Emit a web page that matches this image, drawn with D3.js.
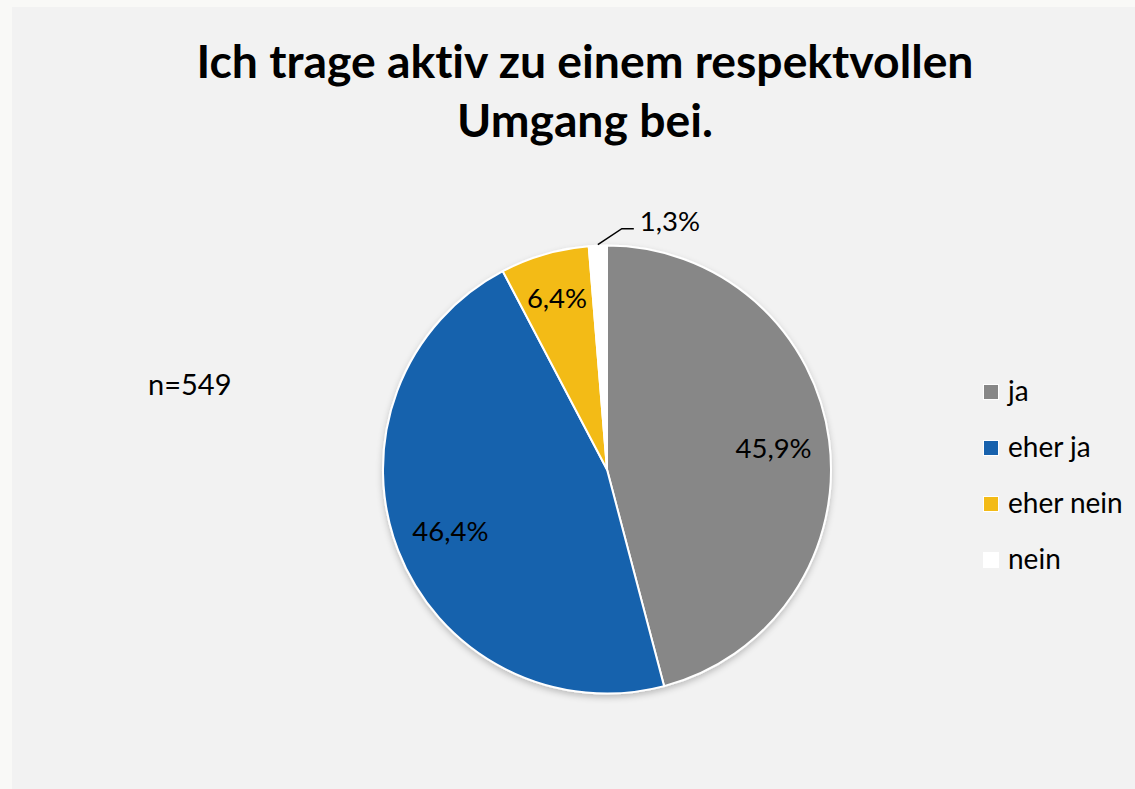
<!DOCTYPE html>
<html>
<head>
<meta charset="utf-8">
<script src="https://cdn.jsdelivr.net/npm/d3@7"></script>
<style>
  html, body { margin: 0; padding: 0; background: #f9f9f7; }
  svg { display: block; }
  text { font-family: Lato, "Open Sans", sans-serif; fill: #000; font-variant-ligatures: none; }
</style>
</head>
<body>
<svg id="chart" width="1135" height="789"></svg>
<script>
// Survey answers and their shares (in percent)
const categories = ["ja", "eher ja", "eher nein", "nein"];
const shares = [45.9, 46.4, 6.4, 1.3];
const colors = ["#878787", "#1862ad", "#f3bb17", "#ffffff"];
const titleLines = ["Ich trage aktiv zu einem respektvollen", "Umgang bei."];
const sampleNote = "n=549";

const fmt = v => d3.format(".1f")(v).replace(".", ",") + "%";

const svg = d3.select("#chart");
const W = 1135, H = 789;

// chart area panel
svg.append("rect").attr("x", 12).attr("y", 7).attr("width", W - 12).attr("height", H - 7)
  .attr("fill", "#f2f2f2");

// title
svg.append("g").selectAll("text").data(titleLines).join("text")
  .attr("x", 585).attr("y", (d, i) => 78 + i * 59)
  .attr("text-anchor", "middle")
  .attr("font-size", 46.3).attr("font-weight", 700)
  .text(d => d);

// sample size
svg.append("text").attr("x", 148).attr("y", 395)
  .attr("font-size", 29).text(sampleNote);

// soft shadow under the pie
const defs = svg.append("defs");
const f = defs.append("filter").attr("id", "shadow")
  .attr("x", "-10%").attr("y", "-10%").attr("width", "120%").attr("height", "125%");
f.append("feDropShadow").attr("dx", 0).attr("dy", 3).attr("stdDeviation", 3)
  .attr("flood-color", "#000").attr("flood-opacity", 0.22);

const cx = 607, cy = 469.5, R = 224;
const pie = d3.pie().sort(null).value(d => d.v);
const data = pie(categories.map((c, i) => ({ c, v: shares[i], col: colors[i] })));
const arc = d3.arc().innerRadius(0).outerRadius(R);
const labelArc = k => d3.arc().innerRadius(R * k).outerRadius(R * k);

const g = svg.append("g").attr("transform", `translate(${cx},${cy})`);
g.append("g").attr("filter", "url(#shadow)")
  .selectAll("path").data(data).join("path")
  .attr("d", arc)
  .attr("fill", d => d.data.col)
  .attr("stroke", "#ffffff").attr("stroke-width", 2).attr("stroke-linejoin", "round");

// value labels: inside for large slices, with leader line for the small one
data.forEach(d => {
  const mid = (d.startAngle + d.endAngle) / 2;
  if (d.data.v >= 3) {
    const [x, y] = labelArc(d.data.v < 10 ? 0.8 : 0.75).centroid(d);
    g.append("text").attr("x", x).attr("y", y)
      .attr("text-anchor", "middle").attr("dominant-baseline", "central")
      .attr("font-size", 27.5).text(fmt(d.data.v));
  } else {
    const p0 = [Math.sin(mid) * (R + 1), -Math.cos(mid) * (R + 1)];
    const p1 = [p0[0] + 24, -Math.cos(mid) * (R + 17)];
    const p2 = [p1[0] + 12, p1[1]];
    g.append("polyline")
      .attr("points", [p0, p1, p2].map(p => p.join(",")).join(" "))
      .attr("fill", "none").attr("stroke", "#000").attr("stroke-width", 1.5);
    g.append("text").attr("x", p2[0] + 6).attr("y", p2[1] - 8)
      .attr("dominant-baseline", "central")
      .attr("font-size", 27.5).text(fmt(d.data.v));
  }
});

// legend
const leg = svg.append("g").attr("transform", "translate(983,384)");
const row = leg.selectAll("g").data(categories).join("g")
  .attr("transform", (d, i) => `translate(0,${i * 56})`);
row.append("rect").attr("x", 0.5).attr("y", 0.5).attr("width", 15).attr("height", 15)
  .attr("fill", (d, i) => colors[i]).attr("stroke", "#ffffff").attr("stroke-width", 1);
row.append("text").attr("x", 25).attr("y", 17)
  .attr("font-size", 28).text(d => d);
</script>
</body>
</html>
